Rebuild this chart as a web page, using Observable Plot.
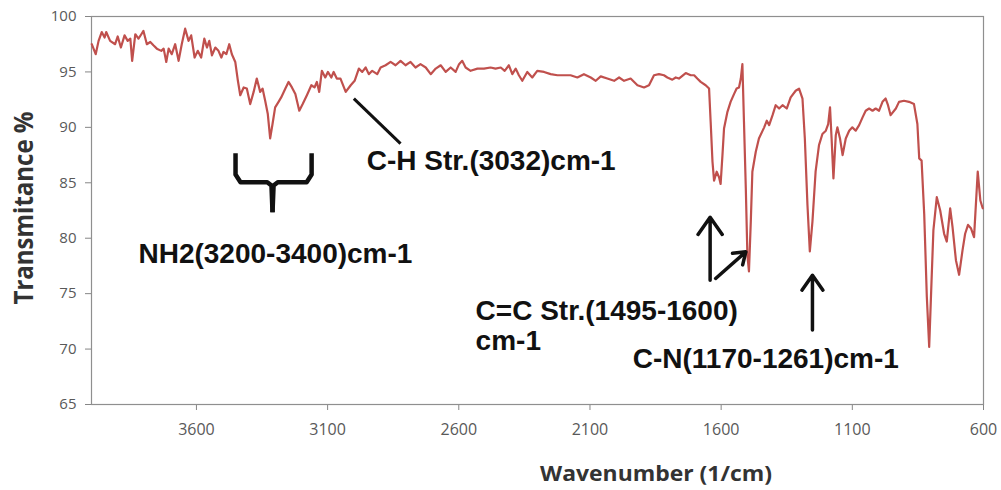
<!DOCTYPE html>
<html>
<head>
<meta charset="utf-8">
<script src="https://cdn.jsdelivr.net/npm/d3@7"></script>
<script src="https://cdn.jsdelivr.net/npm/@observablehq/plot@0.6"></script>
<style>
  html, body { margin: 0; padding: 0; background: #fff; }
  #chart { width: 1001px; height: 490px; }
</style>
</head>
<body>
<div id="chart"></div>
<script>
// ---- Data ----
const wavenumber = [
  3999,3984,3973,3961,3950,3944,3929,3910,3900,3888,3874,3862,3852,3845,3833,3821,3810,3802,3789,3776,
  3764,3751,3734,3725,3715,3706,3694,3681,3668,3656,3643,3630,3620,3607,3595,3582,3570,3560,3551,3541,
  3528,3516,3505,3497,3486,3475,3465,3452,3442,3433,3420,3408,3395,3382,3370,3357,3348,3338,3328,3319,
  3310,3300,3287,3277,3261,3249,3236,3223,3208,3195,3179,3162,3150,3141,3132,3122,3109,3099,3086,3077,
  3065,3051,3031,3012,2997,2981,2968,2955,2943,2930,2911,2898,2879,2860,2841,2822,2803,2784,2765,2746,
  2726,2707,2688,2669,2650,2631,2612,2599,2587,2574,2555,2529,2504,2479,2460,2440,2425,2409,2396,2383,
  2371,2358,2339,2320,2301,2275,2250,2224,2199,2174,2148,2123,2097,2078,2059,2034,2008,1989,1970,1945,
  1919,1894,1875,1856,1837,1818,1805,1786,1773,1761,1735,1716,1703,1691,1678,1659,1646,1640,1633,1627,
  1617,1608,1602,1595,1589,1576,1564,1551,1541,1532,1525,1519,1513,1506,1500,1494,1487,1481,1468,1456,
  1436,1426,1417,1404,1392,1379,1366,1350,1335,1316,1303,1290,1281,1271,1262,1252,1240,1227,1214,1201,
  1192,1185,1179,1172,1163,1157,1147,1137,1125,1112,1100,1087,1074,1061,1049,1036,1023,1011,998,985,
  973,964,954,934,922,903,884,865,852,845,836,826,816,807,798,791,778,765,750,740,
  727,718,705,693,680,670,659,648,636,622,612,603
];
const transmittance = [
  97.5,96.6,97.8,98.6,98.1,98.6,97.8,97.5,98.2,97.2,98.3,97.8,98.0,96.0,98.4,98.0,98.4,98.7,97.5,97.7,
  97.4,97.1,96.9,97.1,95.9,97.1,96.6,97.5,96.0,97.5,98.9,97.8,98.3,96.3,96.9,96.3,98.0,97.2,97.8,96.5,
  97.2,96.9,96.3,96.8,96.6,97.5,96.6,95.9,94.2,92.9,93.6,93.5,92.1,93.2,94.4,93.2,93.5,92.4,91.2,89.0,
  90.3,91.8,92.3,92.7,93.5,94.1,93.6,93.0,91.5,92.1,92.9,93.8,93.6,94.1,93.2,95.1,94.5,95.0,94.5,95.0,
  94.4,94.4,93.2,93.8,94.2,95.3,95.0,95.4,94.8,95.1,94.8,95.4,95.6,95.9,95.6,96.0,95.6,95.9,95.4,95.7,
  95.4,94.8,95.3,95.6,95.0,95.4,95.0,95.7,96.0,95.4,95.1,95.3,95.3,95.4,95.3,95.4,95.1,95.6,94.8,95.3,
  94.7,94.2,95.0,94.5,95.1,95.0,94.8,94.7,94.7,94.7,94.5,94.8,94.5,94.2,94.6,94.4,94.2,94.5,94.2,94.4,
  93.8,93.6,93.8,94.7,94.8,94.7,94.5,94.3,94.5,94.4,94.9,94.7,94.7,94.4,94.1,93.8,93.5,90.5,86.9,85.2,
  86.0,85.5,84.9,87.5,89.9,91.4,92.3,93.0,93.5,93.6,94.4,95.7,90.5,84.5,78.5,77.0,81.5,86.0,87.8,89.0,
  90.0,90.6,90.2,91.1,92.0,91.7,92.0,91.7,92.7,93.3,93.5,92.6,89.0,83.0,78.8,81.5,86.0,88.4,89.4,89.7,
  90.3,91.8,89.0,85.4,89.3,90.0,89.0,87.5,89.0,89.7,90.0,89.7,90.2,90.9,91.5,91.7,91.5,91.7,91.5,92.3,
  92.6,92.0,91.1,91.7,92.3,92.4,92.3,92.1,90.3,87.2,87.0,82.2,74.7,70.2,76.2,80.7,83.7,82.5,80.4,79.7,
  82.7,81.0,78.0,76.7,78.9,80.4,81.2,80.9,80.1,86.0,83.4,82.7
];

const xTicks = [3600, 3100, 2600, 2100, 1600, 1100, 600];
const yTicks = [65, 70, 75, 80, 85, 90, 95, 100];
const xTitle = "Wavenumber (1/cm)";
const yTitle = "Transmitance %";

// annotations (in data units)
const annoLabels = ["C-H Str.(3032)cm-1", "NH2(3200-3400)cm-1", "C=C Str.(1495-1600)", "cm-1", "C-N(1170-1261)cm-1"];
const annoX = [2951, 3821, 2536, 2536, 1937];
const annoY = [86.13, 77.75, 72.61, 69.91, 68.29];

const leaderX = [3000, 2822];
const leaderY = [92.59, 88.53];

const arrowX1 = [1642, 1621, 1252];
const arrowY1 = [76.2, 76.37, 71.71];
const arrowX2 = [1642, 1506, 1252];
const arrowY2 = [81.9, 78.77, 76.67];

const braceSide = ["L","L","L","L","L","L","R","R","R","R","R","R"];
const braceX = [3451, 3451, 3432, 3330, 3314, 3310, 3161, 3161, 3180, 3290, 3306, 3310];
const braceY = [87.66, 85.75, 85.05, 85.05, 84.75, 82.34, 87.66, 85.75, 85.05, 85.05, 84.75, 82.34];

// ---- build tables ----
const spectrum = wavenumber.map((w, i) => ({w, t: transmittance[i]}));
const annos = annoLabels.map((s, i) => ({s, x: annoX[i], y: annoY[i]}));
const arrows = arrowX1.map((x1, i) => ({x1, y1: arrowY1[i], x2: arrowX2[i], y2: arrowY2[i]}));
const brace = braceX.map((x, i) => ({x, y: braceY[i], side: braceSide[i]}));

const W = 1001, H = 490;
const chart = Plot.plot({
  width: W,
  height: H,
  marginTop: 16,
  marginRight: 18,
  marginBottom: 86,
  marginLeft: 91,
  style: {fontFamily: "'Open Sans', sans-serif", background: "#fff", overflow: "visible"},
  x: {domain: [4000, 600]},
  y: {domain: [65, 100]},
  marks: [
    Plot.axisX({ticks: xTicks, tickFormat: d => String(d), tickSize: 6, tickPadding: 13,
      fontSize: 16, color: "#595959", stroke: "#868686", label: null}),
    Plot.axisY({ticks: yTicks, tickFormat: d => String(d), tickSize: 6, tickPadding: 9,
      fontSize: 15, color: "#595959", stroke: "#868686", label: null}),
    Plot.frame({stroke: "#8f8f8f", strokeWidth: 1.2}),
    Plot.line(spectrum, {x: "w", y: "t", stroke: "#c0504d", strokeWidth: 2.2, strokeLinejoin: "round"}),
    Plot.line(brace, {x: "x", y: "y", z: "side", stroke: "#111", strokeWidth: 4.5, strokeLinejoin: "round", strokeLinecap: "butt"}),
    Plot.link([0], {x1: leaderX[0], y1: leaderY[0], x2: leaderX[1], y2: leaderY[1], stroke: "#111", strokeWidth: 3}),
    Plot.arrow(arrows, {x1: "x1", y1: "y1", x2: "x2", y2: "y2", stroke: "#111", strokeWidth: 3.5, headLength: 13, headAngle: 70}),
    Plot.text(annos, {x: "x", y: "y", text: "s", textAnchor: "start", lineAnchor: "bottom",
      fontSize: 28, fontWeight: "bold", fill: "#111",
      fontFamily: "'Liberation Sans', Arial, sans-serif"})
  ]
});
document.getElementById("chart").appendChild(chart);

const svg = d3.select(chart);
svg.append("text")
  .attr("x", 656).attr("y", 481)
  .attr("text-anchor", "middle")
  .attr("font-family", "'Open Sans', sans-serif")
  .attr("font-weight", "bold")
  .attr("font-size", 21)
  .attr("fill", "#333")
  .attr("textLength", 232)
  .attr("lengthAdjust", "spacingAndGlyphs")
  .text(xTitle);
svg.append("text")
  .attr("transform", "translate(33,208) rotate(-90)")
  .attr("text-anchor", "middle")
  .attr("font-family", "'Open Sans', sans-serif")
  .attr("font-weight", "bold")
  .attr("font-size", 27)
  .attr("fill", "#333")
  .attr("textLength", 193)
  .attr("lengthAdjust", "spacingAndGlyphs")
  .text(yTitle);
</script>
</body>
</html>
